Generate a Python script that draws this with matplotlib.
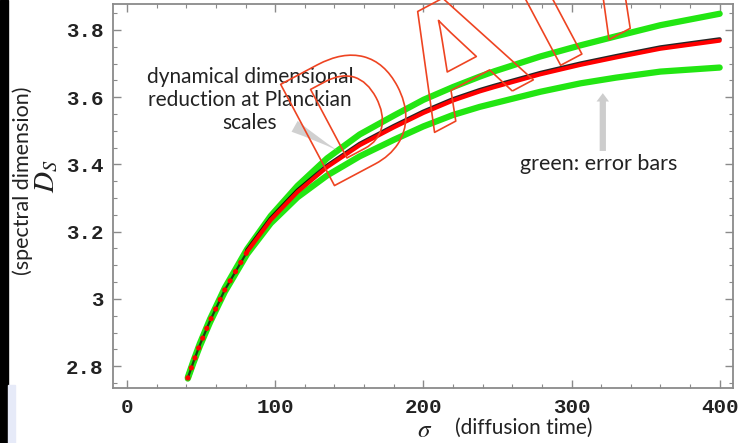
import matplotlib
matplotlib.use("Agg")
import numpy as np
import matplotlib.pyplot as plt
import matplotlib.patheffects as pe
from matplotlib.patches import Rectangle

# values
sigma = [41, 45, 49, 56, 66, 81, 97, 115, 135, 157, 180, 200, 220, 238, 248, 279, 306, 330, 360, 400]
ds_fit = [2.765, 2.815, 2.862, 2.935, 3.027, 3.140, 3.235, 3.318, 3.392, 3.457, 3.510, 3.553,
          3.590, 3.617, 3.630, 3.668, 3.696, 3.718, 3.744, 3.768]
ds_upper = [2.767, 2.818, 2.866, 2.940, 3.033, 3.148, 3.247, 3.336, 3.418, 3.489, 3.545, 3.592,
            3.630, 3.661, 3.677, 3.721, 3.754, 3.781, 3.814, 3.848]
ds_lower = [2.763, 2.812, 2.858, 2.930, 3.021, 3.133, 3.225, 3.302, 3.367, 3.424, 3.473, 3.513,
            3.547, 3.571, 3.582, 3.616, 3.641, 3.658, 3.676, 3.688]

xticks = [0, 100, 200, 300, 400]
yticks = [2.8, 3.0, 3.2, 3.4, 3.6, 3.8]
ytick_labels = ["2.8", "3", "3.2", "3.4", "3.6", "3.8"]

W, H = 740, 443
fig = plt.figure(figsize=(W / 100, H / 100), dpi=100)
fig.patch.set_facecolor("white")

# black band at left edge + pale strip at bottom left
fig.patches.append(Rectangle((0, 0), 8 / W, 1, transform=fig.transFigure, color="black", zorder=0))
fig.patches.append(Rectangle((8 / W, 0), 7 / W, 58 / H, transform=fig.transFigure,
                             color="#e6eaf8", zorder=0))

ax = fig.add_axes([113 / W, 1 - 388 / H, 620 / W, 384 / H])
ax.set_xlim(-9.5, 409)
ax.set_ylim(2.735, 3.877)

s = np.array(sigma)
fit = np.array(ds_fit)
green = "#22e612"
ax.plot(s, ds_upper, color=green, lw=4.5, solid_capstyle="round", solid_joinstyle="round", zorder=2)
ax.plot(s, ds_lower, color=green, lw=4.5, solid_capstyle="round", solid_joinstyle="round", zorder=2)

low = s <= 81
high = s >= 81
ax.plot(s[low], fit[low], color="#203a10", lw=1.6, zorder=3)
ax.plot(s[low], fit[low], color="red", lw=3.8, linestyle=(0, (0.01, 2.0)),
        dash_capstyle="round", zorder=4)
ax.plot(s[high], fit[high], color="red", lw=3.0, solid_capstyle="round", solid_joinstyle="round",
        zorder=4,
        path_effects=[pe.SimpleLineShadow(offset=(0, 1.0), shadow_color="black", alpha=0.85, rho=0.2),
                      pe.Normal()])

# frame and ticks
for sp in ax.spines.values():
    sp.set_color("#8a8a8a")
    sp.set_linewidth(1.3)
ax.set_xticks(xticks)
ax.set_yticks(yticks)
ax.set_yticklabels(ytick_labels)
ax.set_xticks(np.arange(0, 401, 20), minor=True)
ax.set_yticks(np.arange(2.75, 3.86, 0.05), minor=True)
ax.tick_params(which="both", direction="in", top=True, right=True, color="#8a8a8a")
ax.tick_params(which="major", length=6, width=1.0)
ax.tick_params(which="minor", length=3, width=0.8)
ax.tick_params(axis="y", pad=7)
ax.tick_params(axis="x", pad=7)
for lab in ax.get_xticklabels() + ax.get_yticklabels():
    lab.set_family("Liberation Mono")
    lab.set_fontweight("bold")
    lab.set_fontsize(15)
    lab.set_color("#222222")

# axis labels
fig.text(23 / W, 1 - 181 / H, "(spectral dimension)", rotation=90, ha="center", va="center",
         family="Lato", fontsize=15.5, color="#222222")
fig.text(46 / W, 1 - 176 / H, r"$D_S$", rotation=90, ha="center", va="center",
         fontsize=21, math_fontfamily="stix", color="#222222")
fig.text(432 / W, 1 - 430 / H, r"$\sigma$", ha="right", va="center",
         fontsize=18, math_fontfamily="stix", color="#222222")
fig.text(455 / W, 1 - 428 / H, "(diffusion time)", ha="left", va="center",
         family="Lato", fontsize=15, color="#222222")

# annotations
ax.text(0.221, 0.75, "dynamical dimensional\nreduction at Planckian\nscales", transform=ax.transAxes,
        ha="center", va="center", family="Lato", fontsize=15, color="#222222", linespacing=1.2)
ax.text(0.784, 0.583, "green: error bars", transform=ax.transAxes, ha="center", va="center",
        family="Lato", fontsize=15.5, color="#222222")
ax.annotate("", xy=(0.366, 0.615), xytext=(0.289, 0.685), xycoords="axes fraction",
            arrowprops=dict(arrowstyle="wedge,tail_width=0.9,shrink_factor=0.4",
                            fc="#bdbdbd", ec="none", alpha=0.7))
ax.annotate("", xy=(0.790, 0.775), xytext=(0.790, 0.61), xycoords="axes fraction",
            arrowprops=dict(arrowstyle="simple,head_width=0.9,head_length=0.6,tail_width=0.45",
                            fc="#b8b8b8", ec="none", alpha=0.7))

# outlined watermark
fig.text(518 / W, 1 - 88 / H, "DATA", rotation=28, rotation_mode="anchor", ha="center", va="baseline",
         family="Liberation Sans", fontweight="bold", fontsize=120, color="none", zorder=10,
         path_effects=[pe.Stroke(linewidth=1.2, foreground="#ee4422", joinstyle="round")])

fig.savefig("out.png", dpi=100)
